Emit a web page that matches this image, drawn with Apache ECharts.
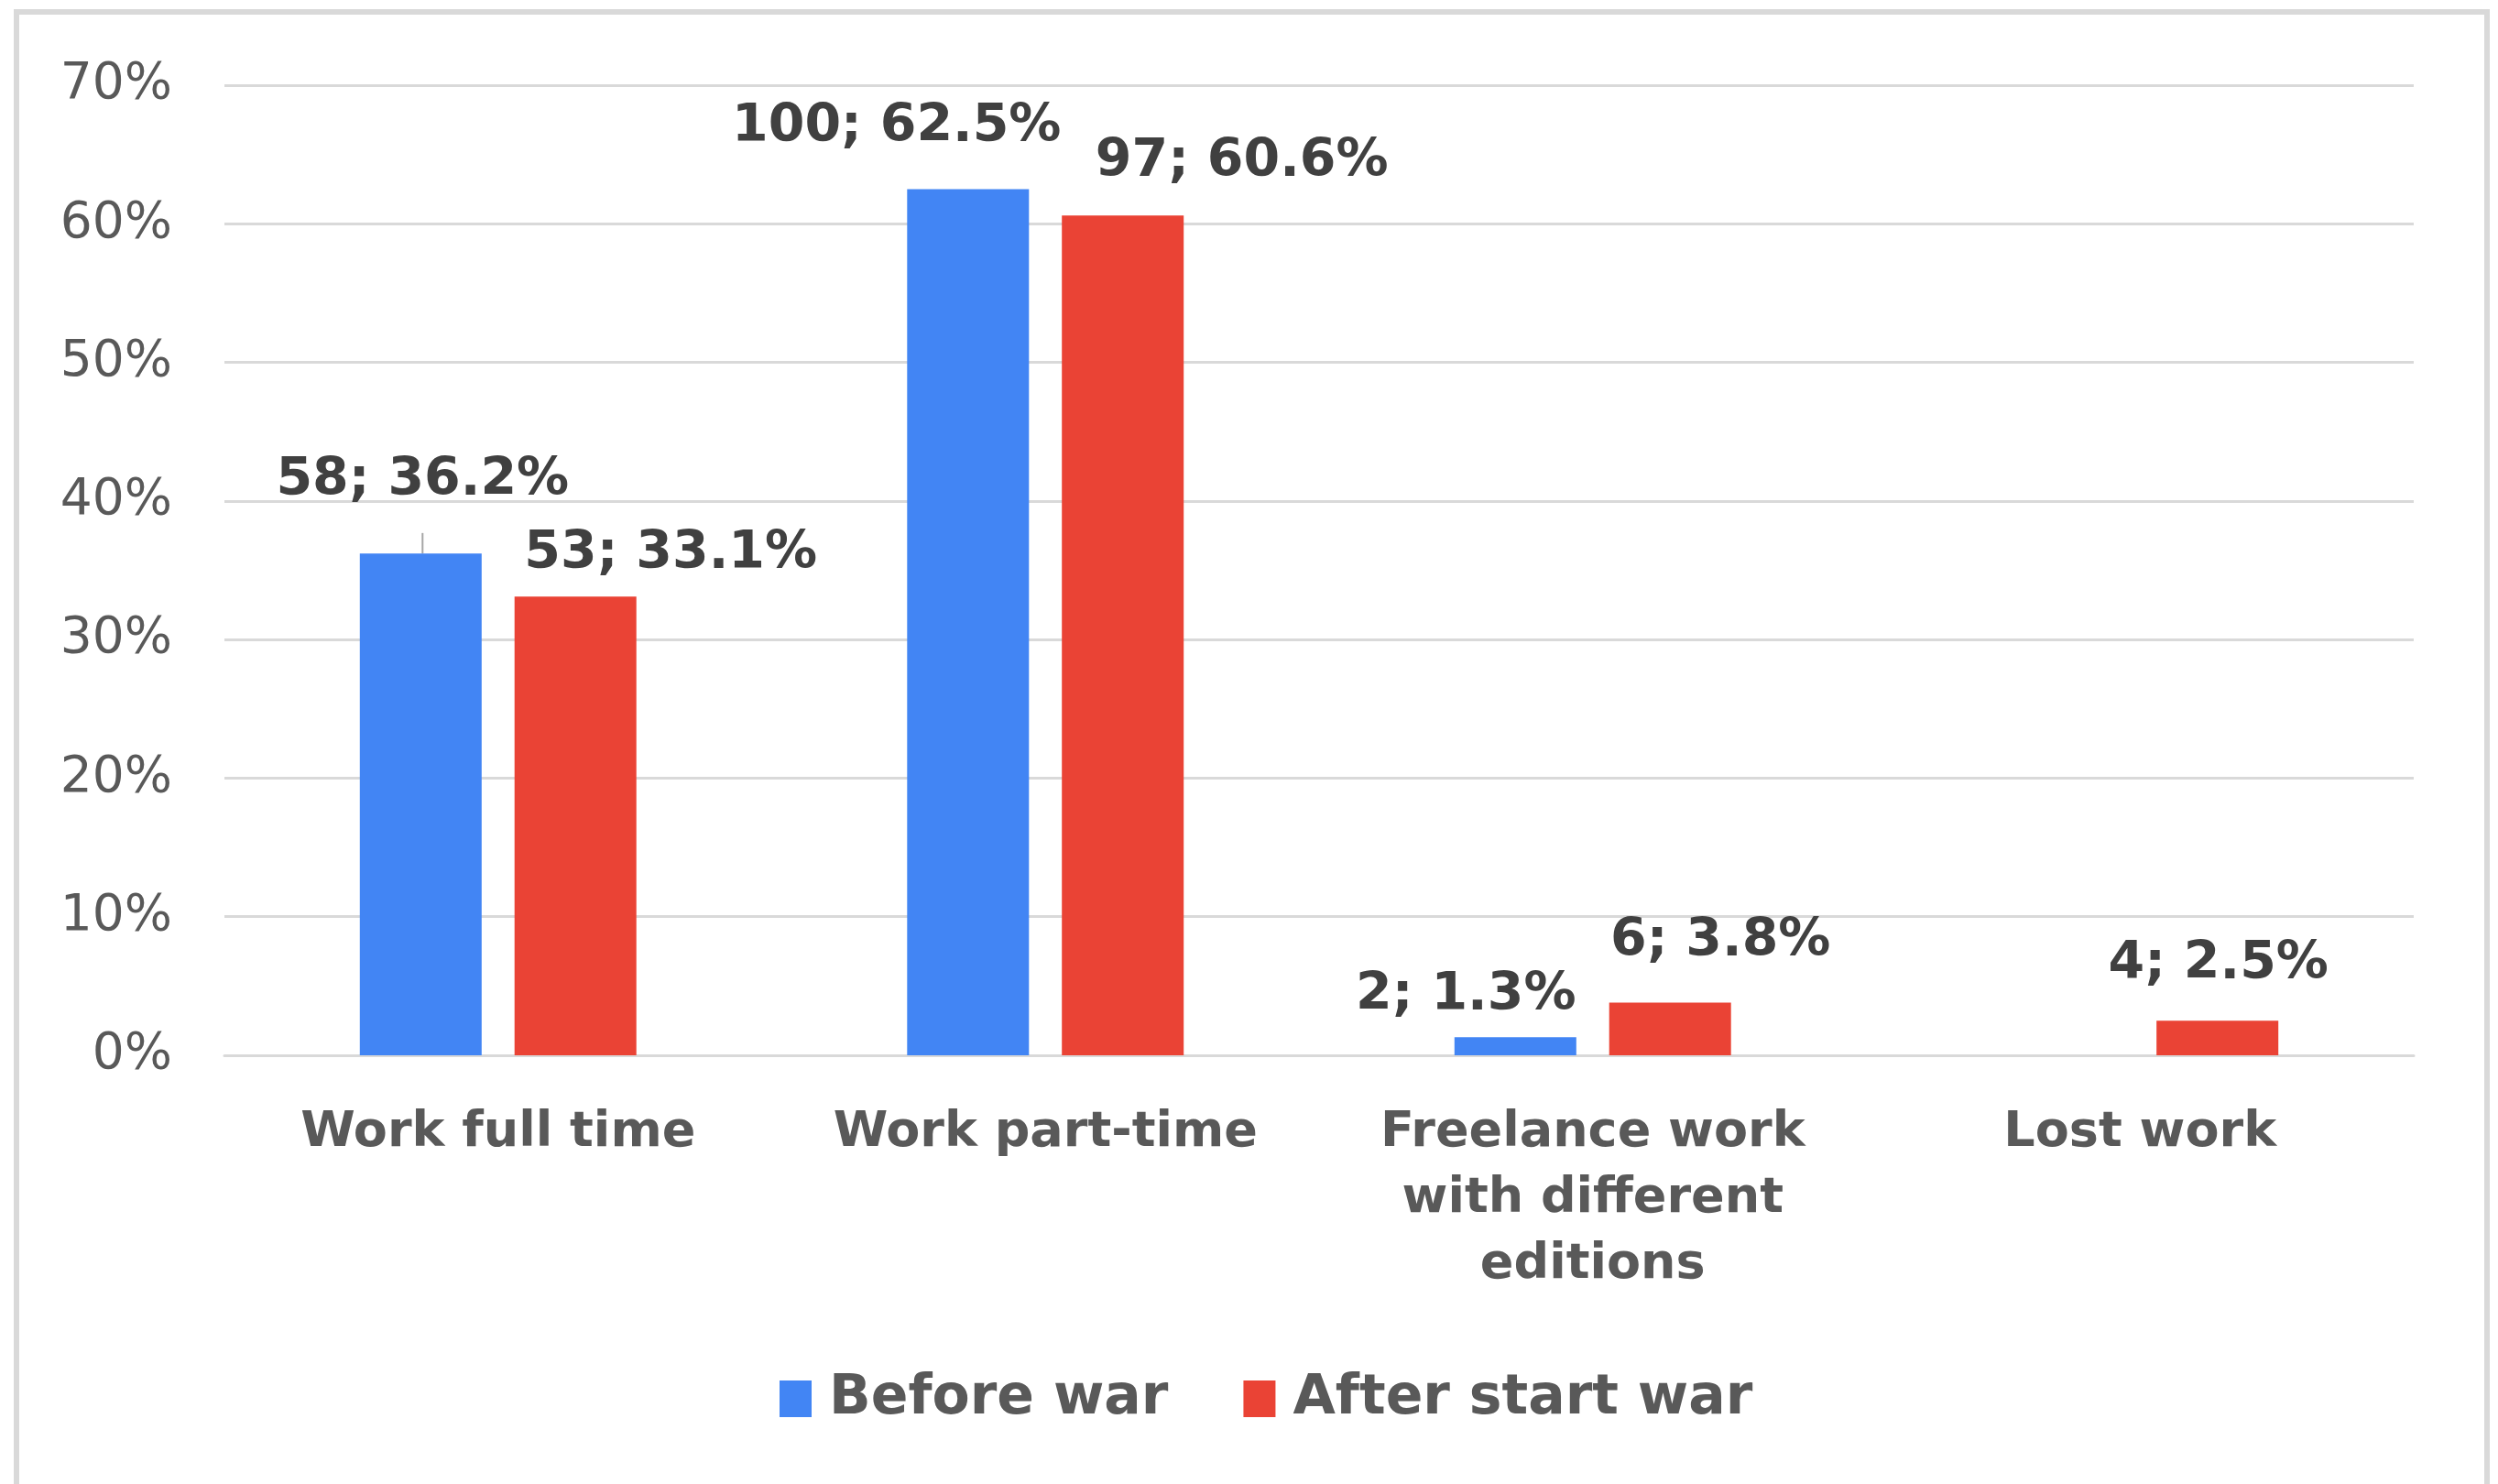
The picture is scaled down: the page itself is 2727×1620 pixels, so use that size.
<!DOCTYPE html>
<html>
<head>
<meta charset="utf-8">
<script src="https://cdn.jsdelivr.net/npm/echarts@6/dist/echarts.min.js"></script>
<style>
  html, body { margin: 0; padding: 0; background: #fff; }
  #main { position: absolute; left: 0; top: 0; width: 2727px; height: 1620px; }
  #frame { position: absolute; left: 15px; top: 10px; width: 2691px; height: 1700px;
           border: 6px solid #d9d9d9; pointer-events: none; }
</style>
</head>
<body>
<div id="main"></div>
<div id="frame"></div>
<script>
// categories and values
var categories = ['Work full time', 'Work part-time', 'Freelance work\nwith different\neditions', 'Lost work'];
var seriesNames = ['Before war', 'After start war'];
var beforeCounts = [58, 100, 2, null];
var beforePct = [36.2, 62.5, 1.3, null];
var afterCounts = [53, 97, 6, 4];
var afterPct = [33.1, 60.6, 3.8, 2.5];
var yTicks = [0, 10, 20, 30, 40, 50, 60, 70];

// label nudges (Excel labels were moved by hand)
var beforeOffsets = [[2, -46], [-78, -34], [-54, -12], [0, 0]];
var afterOffsets = [[104, -13], [130, -25], [55, -33], [1, -27]];

function buildData(pct, counts, offsets, leaderIdx) {
  return pct.map(function (v, i) {
    if (v === null) return '-';
    var item = {
      value: v,
      count: counts[i],
      label: { offset: offsets[i] }
    };
    if (i === leaderIdx) {
      item.labelLine = { show: true, lineStyle: { color: '#a6a6a6', width: 2 } };
    }
    return item;
  });
}

var chart = echarts.init(document.getElementById('main'));

var labelStyle = {
  show: true,
  position: 'top',
  distance: 5,
  fontFamily: 'DejaVu Sans',
  fontWeight: 'bold',
  fontSize: 57,
  color: '#404040',
  formatter: function (p) {
    return p.data.count + '; ' + p.data.value.toFixed(1) + '%';
  }
};

var option = {
  backgroundColor: '#ffffff',
  animation: false,
  grid: {
    left: 245,
    right: 92,
    top: 93,
    bottom: 468,
    containLabel: false
  },
  legend: {
    data: seriesNames,
    bottom: 58,
    left: 846,
    itemWidth: 35,
    itemHeight: 40,
    itemGap: 82,
    icon: 'rect',
    textStyle: {
      fontFamily: 'DejaVu Sans',
      fontWeight: 'bold',
      fontSize: 60,
      color: '#595959',
      padding: [0, 0, 0, 14]
    }
  },
  xAxis: {
    type: 'category',
    data: categories,
    axisLine: { show: true, lineStyle: { color: '#d9d9d9', width: 3 } },
    axisTick: { show: false },
    axisLabel: {
      margin: 49,
      fontFamily: 'DejaVu Sans',
      fontWeight: 'bold',
      fontSize: 54,
      lineHeight: 72,
      color: '#595959',
      align: 'center',
      interval: 0
    }
  },
  yAxis: {
    type: 'value',
    min: yTicks[0],
    max: yTicks[yTicks.length - 1],
    interval: yTicks[1] - yTicks[0],
    axisLine: { show: false },
    axisTick: { show: false },
    splitLine: { lineStyle: { color: '#d9d9d9', width: 3 } },
    axisLabel: {
      margin: 57,
      fontFamily: 'DejaVu Sans',
      fontSize: 55,
      color: '#595959',
      formatter: '{value}%'
    }
  },
  series: [
    {
      name: seriesNames[0],
      type: 'bar',
      barWidth: 133,
      barGap: '27%',
      itemStyle: { color: '#4285f4' },
      label: labelStyle,
      data: buildData(beforePct, beforeCounts, beforeOffsets, 0)
    },
    {
      name: seriesNames[1],
      type: 'bar',
      barWidth: 133,
      barGap: '27%',
      itemStyle: { color: '#ea4335' },
      label: labelStyle,
      data: buildData(afterPct, afterCounts, afterOffsets, -1)
    }
  ]
};

chart.setOption(option);
</script>
</body>
</html>
